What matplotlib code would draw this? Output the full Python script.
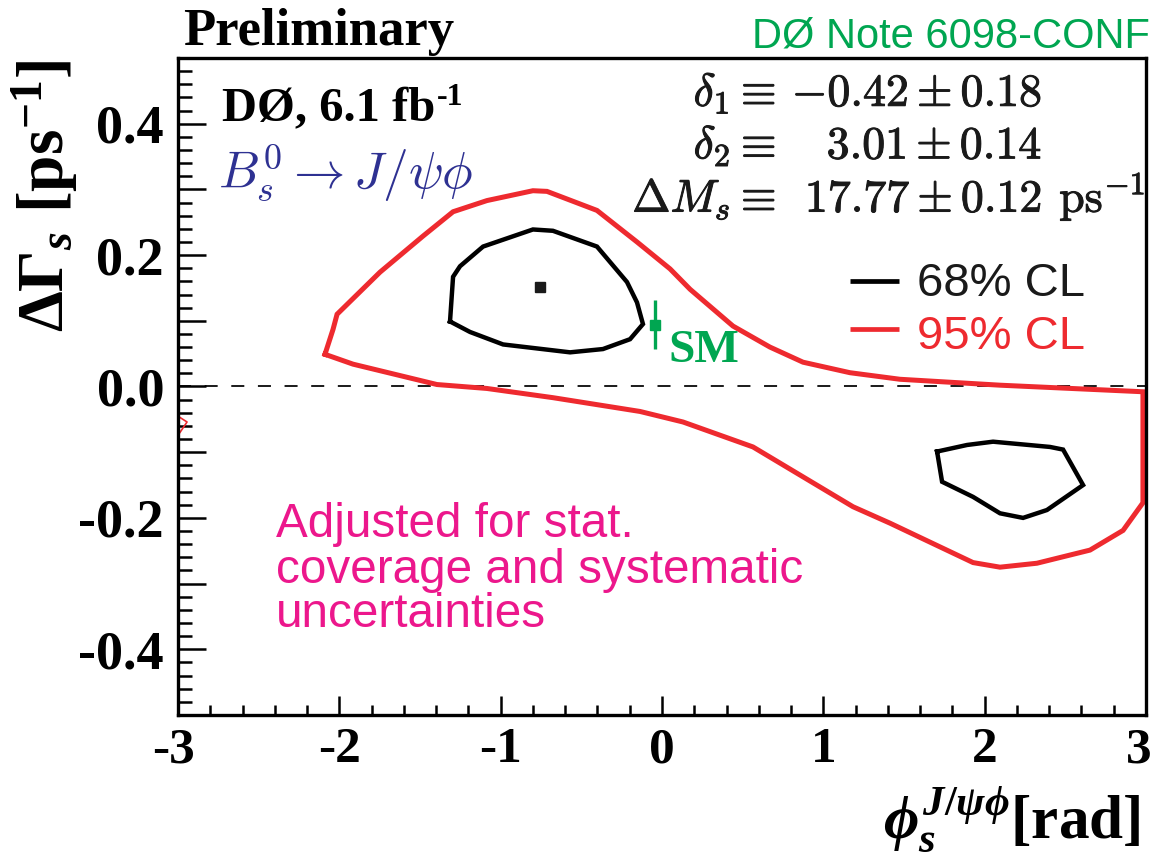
import matplotlib
matplotlib.use("Agg")
import matplotlib.pyplot as plt
import matplotlib.patheffects as pe
import matplotlib.transforms as mtrans
from matplotlib.ticker import FixedLocator, FixedFormatter, MultipleLocator

plt.rcParams["font.family"] = ["Liberation Serif", "DejaVu Serif"]
plt.rcParams["font.weight"] = "bold"
plt.rcParams["mathtext.fontset"] = "cm"
plt.rcParams["mathtext.rm"] = "Liberation Serif:bold"
plt.rcParams["mathtext.it"] = "Liberation Serif:italic:bold"
plt.rcParams["mathtext.bf"] = "Liberation Serif:bold"

# 95% CL contour (phi_s [rad], Delta Gamma_s [ps^-1])
cl95_phi = [-2.089, -2.039, -2.014, -1.748, -1.481, -1.295, -1.085, -0.800, -0.713,
            -0.403, -0.155, 0.050, 0.174, 0.440, 0.669, 0.874, 1.165, 1.475, 2.095,
            2.981, 2.981, 2.858, 2.653, 2.324, 2.095, 1.928, 1.413, 1.184, 0.564,
            0.130, -0.136, -0.676, -1.085, -1.395, -1.915, -2.089]
cl95_dg = [0.049, 0.087, 0.110, 0.174, 0.229, 0.266, 0.283, 0.298, 0.297,
           0.268, 0.220, 0.179, 0.148, 0.092, 0.060, 0.037, 0.021, 0.011, 0.002,
           -0.008, -0.177, -0.219, -0.249, -0.269, -0.275, -0.268, -0.208, -0.183, -0.092,
           -0.054, -0.038, -0.017, -0.003, 0.003, 0.034, 0.049]
# small 95% CL island at the left edge
cl95b_phi = [-2.995, -2.944, -2.988]
cl95b_dg = [-0.046, -0.054, -0.070]

# 68% CL contours
cl68a_phi = [-1.314, -1.295, -1.252, -1.109, -0.800, -0.676, -0.403, -0.217, -0.155,
             -0.118, -0.198, -0.366, -0.570, -0.985, -1.190, -1.314]
cl68a_dg = [0.099, 0.167, 0.183, 0.213, 0.239, 0.237, 0.213, 0.159, 0.128,
            0.095, 0.072, 0.057, 0.052, 0.064, 0.083, 0.099]
cl68b_phi = [1.705, 1.736, 1.928, 2.095, 2.238, 2.386, 2.610, 2.486, 2.405, 2.052, 1.891, 1.705]
cl68b_dg = [-0.099, -0.145, -0.168, -0.193, -0.200, -0.188, -0.150, -0.096, -0.092,
            -0.084, -0.089, -0.099]

# best fit and Standard Model point
best_phi, best_dg = -0.756, 0.151
sm_phi, sm_dg, sm_err = -0.043, 0.094, 0.037

x_ticks = [-3, -2, -1, 0, 1, 2, 3]
x_labels = ["-3", "-2", "-1", "0", "1", "2", "3"]
y_ticks = [-0.4, -0.3, -0.2, -0.1, 0.0, 0.1, 0.2, 0.3, 0.4]
y_labels = ["-0.4", "", "-0.2", "", "0.0", "", "0.2", "", "0.4"]

RED = "#EE2A2F"
GREEN = "#00A651"
BLUE = "#2E3192"
MAGENTA = "#EC178C"
INK = "#1A1A1A"

W, H = 1157, 856
fig = plt.figure(figsize=(W / 100, H / 100), dpi=100)
ax = fig.add_axes([178 / W, 1 - 715 / H, (1146 - 178) / W, (715 - 58) / H])
ax.set_xlim(-3, 3)
ax.set_ylim(-0.5, 0.5)

for sp in ax.spines.values():
    sp.set_linewidth(2.4)
    sp.set_color("black")

ax.xaxis.set_major_locator(FixedLocator(x_ticks))
ax.xaxis.set_major_formatter(FixedFormatter(x_labels))
ax.xaxis.set_minor_locator(MultipleLocator(0.2))
ax.yaxis.set_major_locator(FixedLocator(y_ticks))
ax.yaxis.set_major_formatter(FixedFormatter(y_labels))
ax.yaxis.set_minor_locator(MultipleLocator(0.02))
ax.tick_params(axis="both", which="both", direction="in", top=False, right=False,
               width=1.8, colors="black")
ax.tick_params(axis="x", which="major", length=14, pad=9, labelsize=37)
ax.tick_params(axis="x", which="minor", length=7)
ax.tick_params(axis="y", which="major", length=20, pad=10, labelsize=39)
ax.tick_params(axis="y", which="minor", length=10)

ax.axhline(0.0, color=INK, lw=1.4, dashes=(6.7, 7.0), zorder=1)

ax.plot(cl95_phi, cl95_dg, color=RED, lw=3.6, solid_joinstyle="miter", zorder=2)
ax.plot(cl95b_phi, cl95b_dg, color=RED, lw=1.2, zorder=2, clip_on=False)
ax.plot(cl68a_phi, cl68a_dg, color="black", lw=3.2, solid_joinstyle="miter", zorder=3)
ax.plot(cl68b_phi, cl68b_dg, color="black", lw=3.2, solid_joinstyle="miter", zorder=3)
ax.plot([best_phi], [best_dg], marker="s", ms=7, color=INK, ls="none", zorder=4)
ax.errorbar([sm_phi], [sm_dg], yerr=[sm_err], fmt="s", ms=6.5, color=GREEN,
            elinewidth=2.4, capsize=0, zorder=4)
ax.text(0.037, 0.037, "SM", color=GREEN, fontsize=34, fontweight="bold",
        ha="left", va="baseline")

# legend
ax.plot([1.165, 1.469], [0.161, 0.161], color="black", lw=3.4, solid_capstyle="butt")
ax.plot([1.165, 1.469], [0.088, 0.088], color=RED, lw=3.4, solid_capstyle="butt")
ax.text(1.581, 0.138, "68% CL", color=INK, fontsize=34, family="Liberation Sans",
        fontweight="normal", ha="left", va="baseline")
ax.text(1.581, 0.057, "95% CL", color=RED, fontsize=34, family="Liberation Sans",
        fontweight="normal", ha="left", va="baseline")

# fit inputs
heavy = [pe.withStroke(linewidth=0.7, foreground=INK)]
fit_rows = [(r"$\delta_1 \equiv$", r"$-0.42 \pm 0.18$", 0.427),
            (r"$\delta_2 \equiv$", r"$3.01 \pm 0.14$", 0.347),
            (r"$\Delta M_s \equiv$", r"$17.77 \pm 0.12$", 0.266)]
for lhs, rhs, yb in fit_rows:
    ax.text(0.707, yb, lhs, fontsize=33, color=INK, ha="right", va="baseline",
            path_effects=heavy)
    ax.text(2.355, yb, rhs, fontsize=33, color=INK, ha="right", va="baseline",
            path_effects=heavy)
ax.text(2.995, 0.266, r"$\mathrm{ps}^{-1}$", fontsize=33, color=INK, ha="right",
        va="baseline", path_effects=heavy)

lumi = ax.text(-2.727, 0.404, "DØ, 6.1 fb", fontsize=35, color="black",
               ha="left", va="baseline")
ax.annotate("-1", xy=(1.0, 1.0), xycoords=lumi, xytext=(1, 3),
            textcoords="offset points", fontsize=23, fontweight="bold",
            ha="left", va="top")
ax.text(-2.752, 0.301, r"$B_s^0 \rightarrow J/\psi\phi$", fontsize=37, color=BLUE,
        ha="left", va="baseline")

for txt, yb in [("Adjusted for stat.", -0.229),
                ("coverage and systematic", -0.299),
                ("uncertainties", -0.366)]:
    ax.text(-2.393, yb, txt, color=MAGENTA, fontsize=34.3, family="Liberation Sans",
            fontweight="normal", ha="left", va="baseline")

# headers and axis titles
fig.text(183 / W, 1 - 45 / H, "Preliminary", fontsize=38, fontweight="bold",
         ha="left", va="baseline")
fig.text(1150 / W, 1 - 48 / H, "DØ Note 6098-CONF", fontsize=30, color=GREEN,
         family="Liberation Sans", fontweight="normal", ha="right", va="baseline")
fig.text(45 / W, 1 - 60 / H, r"$\Delta\Gamma_{s}\ [\mathrm{ps}^{-1}]$", fontsize=47,
         rotation=90, ha="center", va="top", math_fontfamily="custom")
fig.text(1140 / W, 1 - 838 / H, r"$\phi_{s}^{J/\psi\phi}$[rad]", fontsize=44,
         ha="right", va="baseline", math_fontfamily="custom")

# keep the outermost x tick labels inside the canvas
fig.canvas.draw()
xt = ax.xaxis.get_major_ticks()
for tick, dx in [(xt[0], -0.05), (xt[-1], -0.07)]:
    lab = tick.label1
    lab.set_transform(lab.get_transform()
                      + mtrans.ScaledTranslation(dx, 0, fig.dpi_scale_trans))

fig.savefig("out.png", dpi=100)
